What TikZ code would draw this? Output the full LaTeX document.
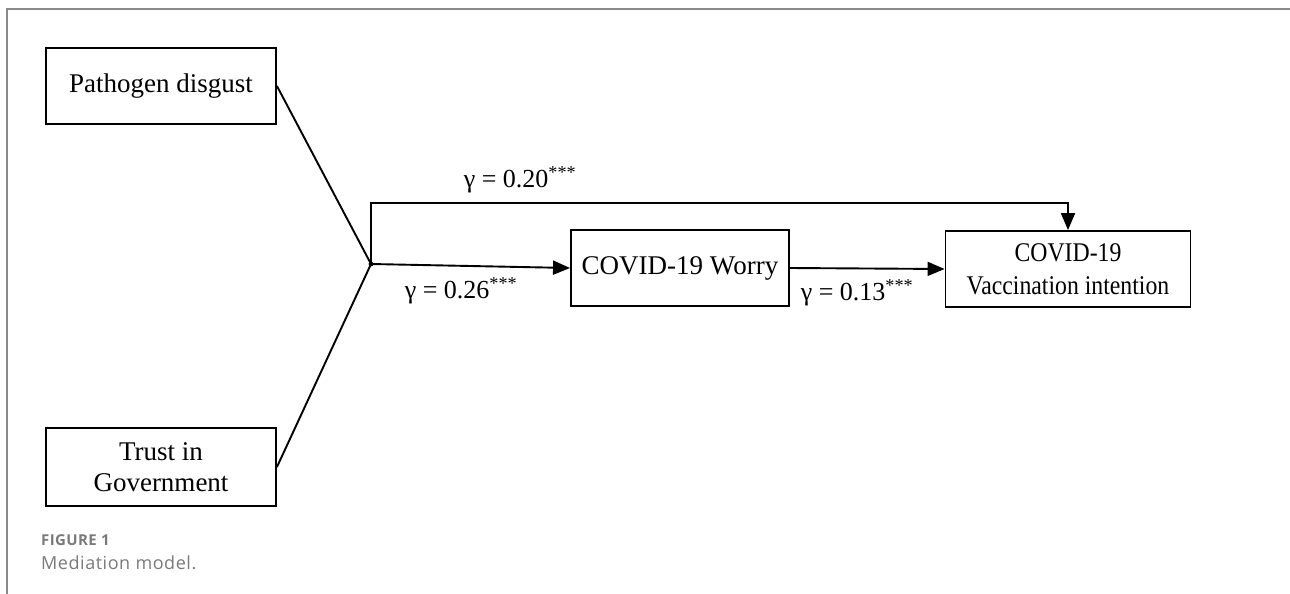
\documentclass[tikz,border=0pt]{standalone}
\usepackage{fontspec}
\usepackage{graphicx}
\setmainfont{Liberation Serif}
\newfontfamily\capfont[LetterSpace=3]{Open Sans}
\newfontfamily\capboldfont[LetterSpace=2.5]{Open Sans}
\usetikzlibrary{arrows.meta}
\definecolor{framegray}{HTML}{8A8A8A}
\definecolor{capgray}{HTML}{7A7A7A}
\tikzset{
  varbox/.style={draw, line width=1.9pt, rectangle, align=center,
    font=\fontsize{27}{31}\selectfont, inner sep=0pt},
  link/.style={line width=1.9pt},
  arr/.style={line width=1.9pt, -{Triangle[length=17pt,width=14pt]}},
  coef/.style={font=\fontsize{26}{30}\selectfont, inner sep=0pt},
}
\begin{document}
\begin{tikzpicture}[x=1pt,y=-1pt]
\useasboundingbox (0,0) rectangle (1290,594);
% page frame
\draw[framegray, line width=1.6pt] (7,594) -- (7,9) -- (1290,9);

% variables
\node[varbox, minimum width=230pt, minimum height=76pt] (pd) at (161,86) {Pathogen disgust};
\node[varbox, minimum width=230pt, minimum height=78pt] (tg) at (161,467) {Trust in\\Government};
\node[varbox, minimum width=218pt, minimum height=76pt] (worry) at (680,268) {COVID-19 Worry};
\node[varbox, minimum width=245pt, minimum height=76pt, font=\fontsize{27}{33}\selectfont] (vacc) at (1068,269)
  {\scalebox{0.88}[1]{COVID-19}\\\scalebox{0.88}[1]{Vaccination intention}};

% joint predictor point
\coordinate (j) at (371,264);
\coordinate (t) at (371,203);
\draw[link] (pd.east) -- (j);
\draw[link] (tg.east) -- (j);
\fill (j) circle (2.4pt);

% paths
\draw[arr] (j) -- (worry.west);
\draw[arr] (worry.east) -- (vacc.west);
\draw[arr] (j) -- (t) -| (vacc.north);

% coefficients
\node[coef] (c1) at (520,180) {γ = 0.20\textsuperscript{***}};
\node[coef] (c2) at (461,291) {γ = 0.26\textsuperscript{***}};
\node[coef] (c3) at (857,293) {γ = 0.13\textsuperscript{***}};

% caption
\node[anchor=west, inner sep=0pt, text=capgray, font=\capboldfont\bfseries\fontsize{15}{17}\selectfont] (fig) at (41,540) {FIGURE 1};
\node[anchor=west, inner sep=0pt, text=capgray, font=\capfont\fontsize{18}{21}\selectfont] (cap) at (41,563) {Mediation model.};
\end{tikzpicture}
\end{document}
